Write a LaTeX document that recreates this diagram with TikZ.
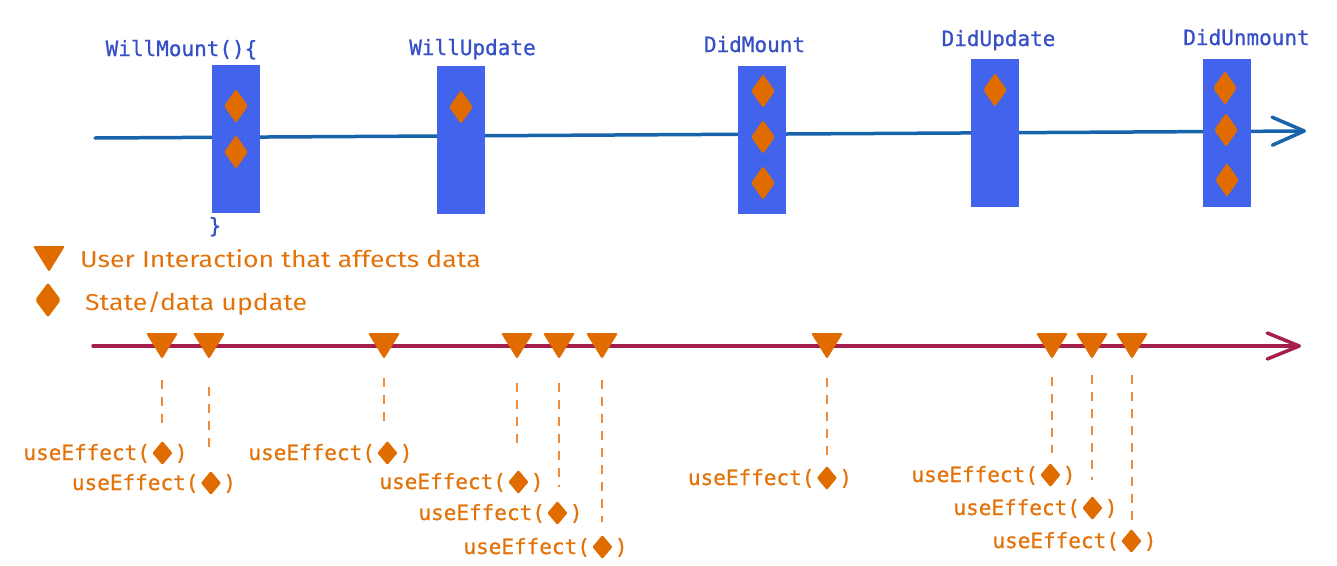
\documentclass[tikz,border=0pt]{standalone}
\usepackage{fontspec}
\newfontfamily\codefont{DejaVu Sans Mono}[FakeBold=0.8]
\newfontfamily\handfont{Fira Sans}[FakeStretch=1.16]
\usetikzlibrary{shapes.geometric,arrows.meta,calc}
\definecolor{boxblue}{HTML}{4263EB}
\definecolor{lineblue}{HTML}{1864AB}
\definecolor{labblue}{HTML}{364FC7}
\definecolor{dorange}{HTML}{E06C00}
\definecolor{torange}{HTML}{E2730A}
\definecolor{dashorange}{HTML}{F08C3C}
\definecolor{crimson}{HTML}{A61E4D}
\newcommand{\ueff}{useEffect(\kern2.5pt\tikz[baseline=0pt]\fill[dorange,rounded corners=1pt] (10pt,-5pt) -- (20pt,7pt) -- (10pt,19pt) -- (0pt,7pt) -- cycle;\kern2.5pt)}
\tikzset{
  lbox/.style={rectangle,fill=boxblue,draw=none,minimum width=48pt,minimum height=148pt,inner sep=0pt},
  dmd/.style={diamond,fill=dorange,draw=none,minimum width=24pt,minimum height=34pt,inner sep=0pt,rounded corners=2pt},
  toplab/.style={anchor=base,text=labblue,font=\codefont\fontsize{21}{25}\selectfont,inner sep=0pt},
  uelab/.style={anchor=base,text=torange,font=\codefont\fontsize{21}{25}\selectfont,inner sep=0pt},
  leglab/.style={anchor=base west,text=torange,font=\handfont\fontsize{23}{27}\selectfont,inner sep=0pt},
  dashline/.style={draw=dashorange,line width=1.5pt,dash pattern=on 9pt off 8pt},
  utri/.pic={\fill[dorange,rounded corners=2pt] (-16,-13) -- (16,-13) -- (0,13) -- cycle;},
}
\begin{document}
\begin{tikzpicture}[x=1pt,y=-1pt]
\useasboundingbox (0,0) rectangle (1337,565);
% blue timeline
\coordinate (bs) at (95,138);
\coordinate (be) at (1306,131);
\draw[lineblue,line width=3.5pt,line cap=round,-{Straight Barb[length=32pt,width=28pt,round]}] (bs) -- (be);
% boxes
\node[lbox] (b1) at (236,139) {};
\node[lbox] (b2) at (461,139.5) {};
\node[lbox] (b3) at (762,139.5) {};
\node[lbox] (b4) at (995,133) {};
\node[lbox] (b5) at (1227,132.5) {};
% diamonds in boxes
\node[dmd] (d11) at (236,106) {};
\node[dmd] (d12) at (236,152) {};
\node[dmd] (d21) at (461,107) {};
\node[dmd] (d31) at (763,91) {};
\node[dmd] (d32) at (763,137) {};
\node[dmd] (d33) at (763,183) {};
\node[dmd] (d41) at (995,90) {};
\node[dmd] (d51) at (1225,88) {};
\node[dmd] (d52) at (1226,130) {};
\node[dmd] (d53) at (1227,180) {};
% top labels
\node[toplab] (l1) at (181.5,56) {WillMount()\{};
\node[toplab] (l1b) at (215,233) {\}};
\node[toplab] (l2) at (472.5,55) {WillUpdate};
\node[toplab] (l3) at (754.5,52) {DidMount};
\node[toplab] (l4) at (998.5,46) {DidUpdate};
\node[toplab] (l5) at (1246.5,45) {DidUnmount};
% legend
\pic (lt) at (49,259) {utri};
\node[leglab] (lg1) at (80,267) {User Interaction that affects data};
\node[dmd,minimum width=26pt,minimum height=35pt] (ld) at (48,300) {};
\node[leglab] (lg2) at (85,310) {State/data update};
% crimson timeline
\coordinate (cs) at (93,346);
\coordinate (ce) at (1301,346);
\draw[crimson,line width=3.5pt,line cap=round,-{Straight Barb[length=32pt,width=26pt,round]}] (cs) -- (ce);
% triangles
\foreach \i/\x in {1/162,2/209,3/384,4/517,5/559,6/602,7/827,8/1052,9/1092,10/1132}{
  \coordinate (t\i) at (\x,346);
  \pic at (t\i) {utri};
}
% dashed connectors
\foreach \i/\a/\b in {1/34/428,2/41/455,3/32/427,4/37/450,5/37/487,6/34/522,7/32/462,8/31/453,9/29/480,10/29/527}{
  \coordinate (e\i) at ($(t\i|-0,\b)$);
  \draw[dashline] ($(t\i)+(0,\a)$) -- (e\i);
}
% useEffect labels
\node[uelab] (u1) at (105.5,460) {\ueff};
\node[uelab] (u2) at (154,490) {\ueff};
\node[uelab] (u3) at (330.5,460) {\ueff};
\node[uelab] (u4) at (461.5,489) {\ueff};
\node[uelab] (u5) at (500.5,520) {\ueff};
\node[uelab] (u6) at (545.5,554) {\ueff};
\node[uelab] (u7) at (770,485) {\ueff};
\node[uelab] (u8) at (993.5,482) {\ueff};
\node[uelab] (u9) at (1035.5,515) {\ueff};
\node[uelab] (u10) at (1074.5,548) {\ueff};
\end{tikzpicture}
\end{document}
